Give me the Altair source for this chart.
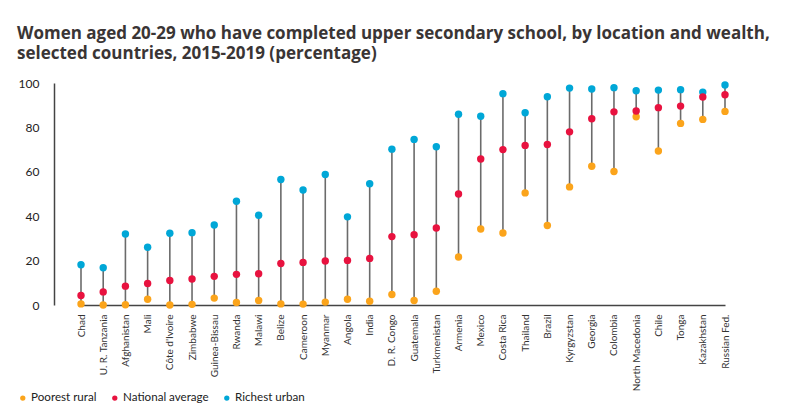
import altair as alt
import pandas as pd

countries = ["Chad", "U. R. Tanzania", "Afghanistan", "Mali", "Côte d'Ivoire", "Zimbabwe",
             "Guinea-Bissau", "Rwanda", "Malawi", "Belize", "Cameroon", "Myanmar", "Angola",
             "India", "D. R. Congo", "Guatemala", "Turkmenistan", "Armenia", "Mexico",
             "Costa Rica", "Thailand", "Brazil", "Kyrgyzstan", "Georgia", "Colombia",
             "North Macedonia", "Chile", "Tonga", "Kazakhstan", "Russian Fed."]

poorest_rural = [0.5, 0.0, 0.1, 2.6, 0.0, 0.3, 3.1, 1.1, 2.0, 0.5, 0.4, 1.3, 2.6, 1.7, 4.7,
                 2.0, 6.2, 21.6, 34.2, 32.4, 50.5, 35.8, 53.2, 62.5, 60.1, 84.8, 69.4, 81.8,
                 83.6, 87.2]
national_average = [4.3, 5.9, 8.5, 9.7, 11.0, 11.7, 12.9, 13.8, 14.1, 18.7, 19.2, 19.8, 20.1,
                    21.0, 30.8, 31.7, 34.7, 50.0, 65.8, 70.0, 71.9, 72.3, 78.0, 83.9, 87.0,
                    87.4, 88.9, 89.6, 93.7, 94.7]
richest_urban = [18.1, 16.8, 32.0, 26.0, 32.3, 32.6, 36.0, 46.7, 40.4, 56.5, 51.8, 58.8, 39.7,
                 54.6, 70.2, 74.6, 71.3, 85.9, 85.0, 95.2, 86.6, 93.8, 97.7, 97.3, 97.9, 96.5,
                 96.8, 97.0, 95.9, 99.1]

groups = ["Poorest rural", "National average", "Richest urban"]
colors = ["#FBA41B", "#E8123F", "#00A7D7"]

series = {"Poorest rural": poorest_rural, "National average": national_average,
          "Richest urban": richest_urban}
rows = []
for g in ["Poorest rural", "Richest urban", "National average"]:
    for c, v in zip(countries, series[g]):
        rows.append({"country": c, "group": g, "value": v})
df = pd.DataFrame(rows)

font = "Lato"

x = alt.X("country:N", sort=countries, title=None,
          scale=alt.Scale(type="point", range=[27, 671], padding=0),
          axis=alt.Axis(labelAngle=-90, labelFontSize=10, labelColor="#333333",
                        labelFont=font, ticks=False, labelPadding=9,
                        domainColor="#444444", domainWidth=1.5))

rules = alt.Chart(df).mark_rule(color="#6b6b6b", strokeWidth=1.6).encode(
    x=x,
    y=alt.Y("min(value):Q"),
    y2=alt.Y2("max(value):Q"),
)

points = alt.Chart(df).mark_circle(size=55, opacity=1).encode(
    x=x,
    y=alt.Y("value:Q", title=None,
            scale=alt.Scale(domain=[0, 100], nice=False),
            axis=alt.Axis(values=[0, 20, 40, 60, 80, 100], grid=False, ticks=False,
                          labelPadding=15, labelFontSize=12, labelColor="#222222",
                          labelFont=font, domainColor="#444444", domainWidth=1.5)),
    color=alt.Color("group:N", scale=alt.Scale(domain=groups, range=colors),
                    legend=alt.Legend(title=None, orient="none", direction="horizontal",
                                      legendX=-37, legendY=309, symbolSize=28,
                                      symbolType="circle", labelFontSize=11.6,
                                      labelFont=font, labelColor="#222222",
                                      labelOffset=2.5, columnPadding=12)),
)

chart = (rules + points).properties(
    width=703, height=222,
    padding={"left": 9, "top": 17, "right": 5, "bottom": 5},
    title=alt.TitleParams(
        ["Women aged 20-29 who have completed upper secondary school, by location and wealth,",
         "selected countries, 2015-2019 (percentage)"],
        anchor="start", frame="bounds", fontSize=17, font="Open Sans", fontWeight="bold",
        color="#3a3535", offset=14, lineHeight=20),
).configure_view(stroke=None)

chart.save("out.html", embed_options={"renderer": "svg", "actions": False})
